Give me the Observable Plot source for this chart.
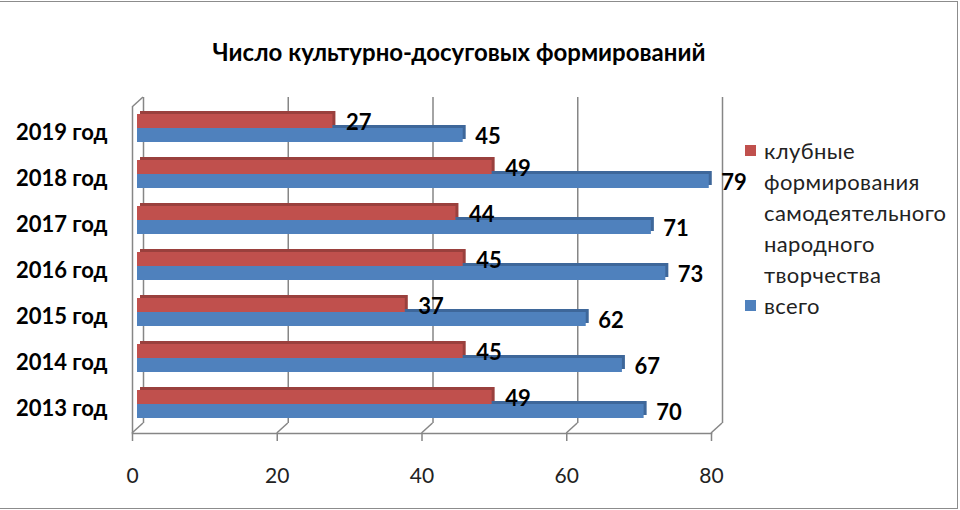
<!DOCTYPE html>
<html>
<head>
<meta charset="utf-8">
<script src="https://cdn.jsdelivr.net/npm/d3@7"></script>
<script src="https://cdn.jsdelivr.net/npm/@observablehq/plot@0.6"></script>
<style>
  html, body { margin: 0; padding: 0; background: #fff; }
  #wrap { position: relative; width: 960px; height: 510px; overflow: hidden; font-family: Lato, "Open Sans", sans-serif; }
  #wrap svg { position: absolute; left: 0; top: 0; }
  #title { position: absolute; left: 0; width: 918px; top: 37px; text-align: center; font-weight: bold; font-size: 24px; line-height: 30px; color: #000; }
  #legend { position: absolute; left: 745px; top: 135px; font-size: 22px; letter-spacing: 0.4px; line-height: 31px; color: #222; }
  #legend .row { position: relative; padding-left: 19px; white-space: nowrap; }
  #legend .sw { position: absolute; left: 0; top: 10px; width: 11px; height: 11px; }
  #border { position: absolute; left: -3px; top: 1px; width: 961px; height: 508px; box-sizing: border-box; border: 1.5px solid #8c8c8c; pointer-events: none; }
</style>
</head>
<body>
<div id="wrap">
  <div id="title"></div>
  <div id="legend"></div>
  <div id="border"></div>
</div>
<script>
const title = "Число культурно-досуговых формирований";
const years = ["2019 год", "2018 год", "2017 год", "2016 год", "2015 год", "2014 год", "2013 год"];
const club = [27, 49, 44, 45, 37, 45, 49];
const total = [45, 79, 71, 73, 62, 67, 70];
const xTicks = [0, 20, 40, 60, 80];
const seriesNames = ["клубные формирования самодеятельного народного творчества", "всего"];

const colors = ["#C0504D", "#4F81BD"];
const darkColors = ["#9A403D", "#3E679A"];
const gridColor = "#868686";

const clubData = years.map((y, i) => ({year: y, value: club[i]}));
const totalData = years.map((y, i) => ({year: y, value: total[i]}));

const W = 960, H = 510, mL = 132, mR = 249, mT = 107, mB = 77;
const bw = 28, half = bw / 2;
const bdx = 5, bdy = -4;      // bars sit mid-depth
const ddx = 11, ddy = -10;    // back wall depth
const sdx = 3, sdy = -3;      // bar thickness

const plot = Plot.plot({
  width: W, height: H,
  marginLeft: mL, marginRight: mR, marginTop: mT, marginBottom: mB,
  style: {fontFamily: "Lato, 'Open Sans', sans-serif", fontSize: "21px", color: "#000", background: "transparent", overflow: "visible"},
  x: {domain: [0, 80], ticks: xTicks},
  y: {domain: years, paddingInner: 0.4, paddingOuter: 0.2},
  marks: [
    Plot.ruleX(xTicks, {x: d => d, dx: ddx, dy: ddy, stroke: gridColor, strokeWidth: 1.5}),
    Plot.ruleX([0], {x: d => d, stroke: gridColor, strokeWidth: 1.5}),
    Plot.frame({anchor: "bottom", stroke: gridColor, strokeWidth: 1.5}),
    Plot.axisX({ticks: xTicks, tickSize: 8, tickPadding: 27, stroke: gridColor, strokeWidth: 1.5, fontSize: 21, fill: "#222", label: null}),
    Plot.axisY({tickSize: 0, tickPadding: 25, fontWeight: "bold", fontSize: 22, fill: "#000", label: null}),
    Plot.barX(totalData, {x: "value", y: "year", insetTop: half, dx: bdx + sdx, dy: bdy + sdy, fill: darkColors[1]}),
    Plot.barX(totalData, {x: "value", y: "year", insetTop: half, dx: bdx, dy: bdy, fill: colors[1]}),
    Plot.barX(clubData, {x: "value", y: "year", insetBottom: half, dx: bdx + sdx, dy: bdy + sdy, fill: darkColors[0]}),
    Plot.barX(clubData, {x: "value", y: "year", insetBottom: half, dx: bdx, dy: bdy, fill: colors[0]}),
    Plot.text(clubData, {x: "value", y: "year", text: d => String(d.value), textAnchor: "start", dx: bdx + 13, dy: -10, fontWeight: "bold", fontSize: 22, fill: "#000"}),
    Plot.text(totalData, {x: "value", y: "year", text: d => String(d.value), textAnchor: "start", dx: bdx + 12, dy: 4, fontWeight: "bold", fontSize: 22, fill: "#000"})
  ]
});

// 3D wall/floor diagonals drawn from the plot's own x scale
const sx = plot.scale("x");
const xp = v => (sx.apply ? sx.apply(v) : mL + (v - sx.domain[0]) / (sx.domain[1] - sx.domain[0]) * (W - mL - mR));
const g = d3.select(plot).append("g").attr("stroke", gridColor).attr("stroke-width", 1.5).attr("fill", "none");
const yTop = mT, yBot = H - mB;
xTicks.forEach(t => {
  g.append("line").attr("x1", xp(t)).attr("y1", yBot).attr("x2", xp(t) + ddx).attr("y2", yBot + ddy);
});
g.append("line").attr("x1", xp(0)).attr("y1", yTop).attr("x2", xp(0) + ddx).attr("y2", yTop + ddy);

const wrap = document.getElementById("wrap");
wrap.insertBefore(plot, wrap.firstChild);

document.getElementById("title").textContent = title;

const legend = document.getElementById("legend");
seriesNames.forEach((name, i) => {
  name.split(" ").forEach((word, j) => {
    const row = document.createElement("div");
    row.className = "row";
    if (j === 0) {
      const sw = document.createElement("span");
      sw.className = "sw";
      sw.style.background = colors[i];
      row.appendChild(sw);
    }
    row.appendChild(document.createTextNode(word));
    legend.appendChild(row);
  });
});
</script>
</body>
</html>
